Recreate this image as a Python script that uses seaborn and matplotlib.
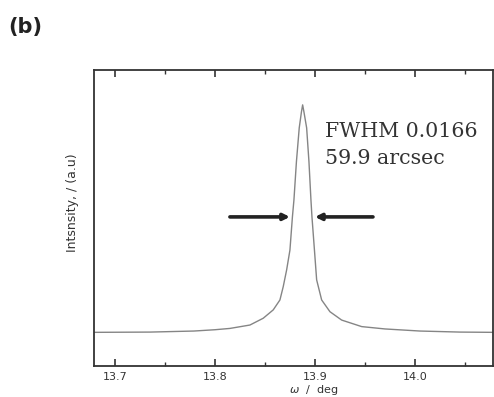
import numpy as np
import pandas as pd
import seaborn as sns
import matplotlib
matplotlib.use("Agg")
import matplotlib.pyplot as plt
from matplotlib.ticker import MultipleLocator, NullLocator

# Rocking curve (omega in deg, intensity in arbitrary units)
omega = [13.679, 13.735, 13.779, 13.800, 13.815, 13.835, 13.8483, 13.8583,
         13.865, 13.8683, 13.8717, 13.875, 13.8765, 13.8775, 13.879, 13.8815,
         13.8843, 13.8865, 13.8877, 13.889, 13.8917, 13.894, 13.896, 13.897,
         13.898, 13.8995, 13.9017, 13.9067, 13.915, 13.9267, 13.9467, 13.970,
         14.005, 14.045, 14.078]
intensity = [0.129, 0.130, 0.134, 0.139, 0.144, 0.157, 0.183, 0.215,
             0.253, 0.304, 0.368, 0.444, 0.521, 0.572, 0.636, 0.783,
             0.912, 0.973, 1.000, 0.973, 0.912, 0.783, 0.636, 0.572,
             0.521, 0.444, 0.330, 0.253, 0.208, 0.176, 0.151, 0.142,
             0.134, 0.130, 0.129]

xticks = [13.7, 13.8, 13.9, 14.0]
xtick_labels = ["13.7", "13.8", "13.9", "14.0"]
fwhm_text = ["FWHM 0.0166", "59.9 arcsec"]
half_max = 0.571
left_arrow = (13.815, 13.875)
right_arrow = (13.958, 13.900)

df = pd.DataFrame({"omega": omega, "intensity": intensity})

sns.set_style("ticks")
plt.rcParams["font.family"] = ["DejaVu Sans"]

fig = plt.figure(figsize=(4.94, 3.97), dpi=100)
ax = fig.add_axes([0.190, 0.078, 0.808, 0.746])

sns.lineplot(data=df, x="omega", y="intensity", ax=ax, color="#858585",
             linewidth=1.0, sort=False)

ax.set_xlim(13.679, 14.078)
ax.set_ylim(0, 1.134)
ax.set_xticks(xticks)
ax.set_xticklabels(xtick_labels)
ax.xaxis.set_minor_locator(MultipleLocator(0.05))
ax.yaxis.set_major_locator(NullLocator())
ax.yaxis.set_minor_locator(NullLocator())
ax.tick_params(axis="x", which="major", direction="in", length=5, width=1.2,
               top=True, bottom=True, labelsize=8, labelcolor="#333333",
               color="#333333", pad=4)
ax.tick_params(axis="x", which="minor", direction="in", length=3, width=1.0,
               top=True, bottom=True, color="#333333")
for s in ax.spines.values():
    s.set_color("#333333")
    s.set_linewidth(1.3)

ax.set_xlabel(r"$\omega$  /  deg", fontsize=8, color="#333333", labelpad=0)
ax.xaxis.set_label_coords(0.55, -0.057)
ax.set_ylabel("Intsnsity, / (a.u)", fontsize=9, color="#333333")
ax.yaxis.set_label_coords(-0.036, 0.55)

ax.annotate("", xy=(left_arrow[1], half_max), xytext=(left_arrow[0], half_max),
            arrowprops=dict(arrowstyle="-|>", lw=2.6, color="#222222",
                            mutation_scale=9, shrinkA=0, shrinkB=0))
ax.annotate("", xy=(right_arrow[1], half_max), xytext=(right_arrow[0], half_max),
            arrowprops=dict(arrowstyle="-|>", lw=2.6, color="#222222",
                            mutation_scale=9, shrinkA=0, shrinkB=0))

ax.text(0.578, 0.773, fwhm_text[0], transform=ax.transAxes, fontsize=14.8,
        family="DejaVu Serif", color="#333333", va="baseline")
ax.text(0.578, 0.681, fwhm_text[1], transform=ax.transAxes, fontsize=14.8,
        family="DejaVu Serif", color="#333333", va="baseline")

fig.text(0.016, 0.918, "(b)", fontsize=15, fontweight="bold", color="#222222")

fig.savefig("out.png", dpi=100)
